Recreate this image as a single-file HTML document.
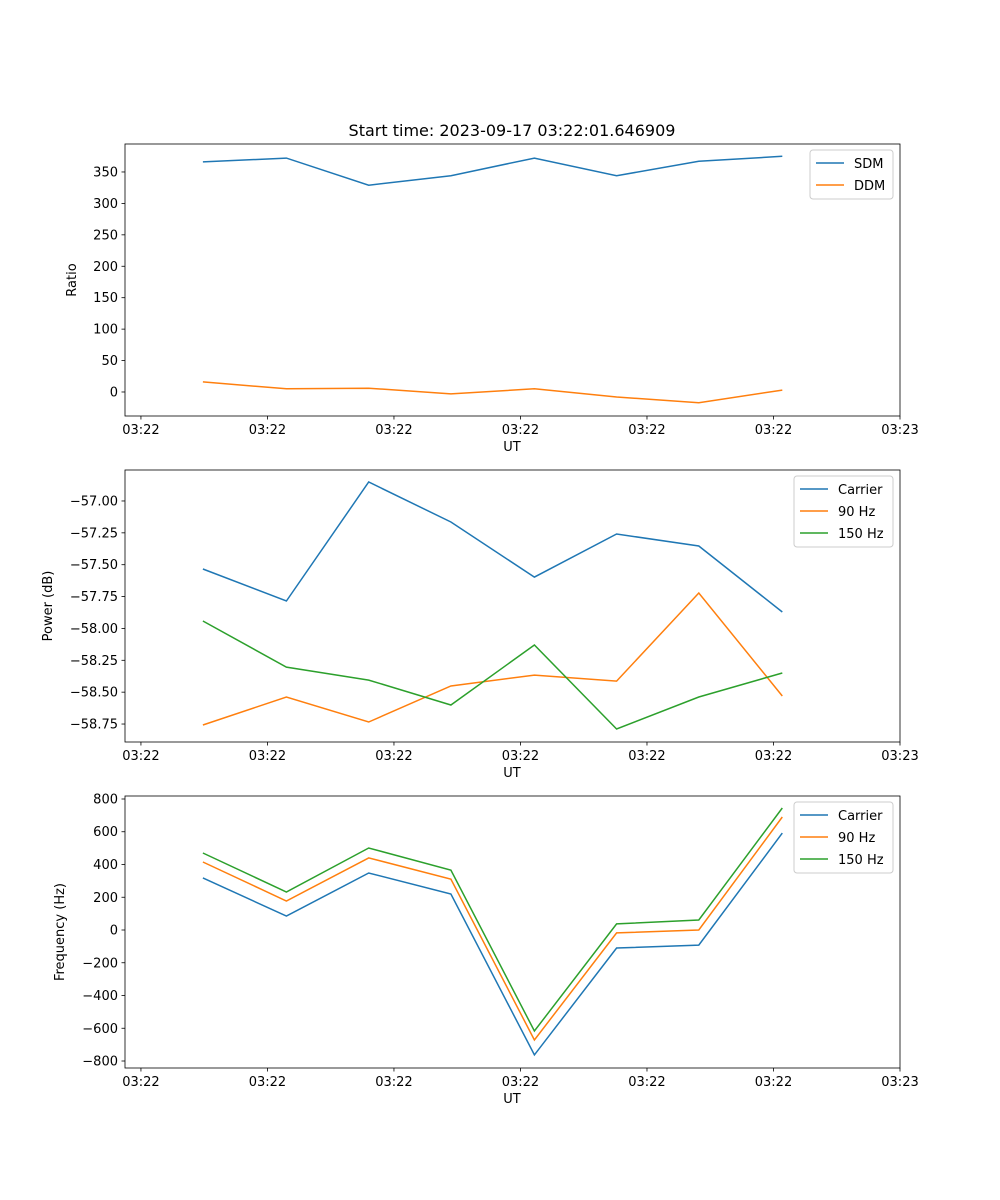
<!DOCTYPE html>
<html><head><meta charset="utf-8"><style>
body{margin:0;background:#fff}
svg{display:block;font-family:"DejaVu Sans","Liberation Sans",sans-serif}
</style></head><body>
<svg id="fig" width="1000" height="1200" viewBox="0 0 1000 1200" xmlns="http://www.w3.org/2000/svg">
<rect width="1000" height="1200" fill="#fff"/>
<text x="512" y="136" font-size="16" text-anchor="middle">Start time: 2023-09-17 03:22:01.646909</text>
</svg>
<script>
const times = [4.9, 11.5, 18.0, 24.5, 31.1, 37.6, 44.1, 50.7];
const xTicks = [0, 10, 20, 30, 40, 50, 60];
const xTickLabels = ["03:22","03:22","03:22","03:22","03:22","03:22","03:23"];
const sdm = [366, 372, 329, 344, 372, 344, 367, 375];
const ddm = [16, 5, 6, -3, 5, -8, -17, 3];
const powCarrier = [-57.534, -57.785, -56.851, -57.165, -57.597, -57.259, -57.353, -57.871];
const pow90 = [-58.758, -58.538, -58.734, -58.452, -58.366, -58.413, -57.722, -58.53];
const pow150 = [-57.942, -58.303, -58.405, -58.601, -58.13, -58.789, -58.538, -58.35];
const freqCarrier = [318, 85, 348, 220, -763, -110, -92, 592];
const freq90 = [415, 177, 440, 311, -672, -18, 0, 690];
const freq150 = [470, 232, 501, 366, -617, 37, 61, 745];
const ticks1 = [0,50,100,150,200,250,300,350];
const ticks2 = [-58.75,-58.5,-58.25,-58,-57.75,-57.5,-57.25,-57];
const ticks3 = [-800,-600,-400,-200,0,200,400,600,800];

const NS="http://www.w3.org/2000/svg";
const svg=document.getElementById('fig');
function mk(tag,attrs,parent){const e=document.createElementNS(NS,tag);for(const k in attrs)e.setAttribute(k,attrs[k]);(parent||svg).appendChild(e);return e;}
const L=125,R=900,xMin=-1.26,xMax=60;
const xs=v=>L+(v-xMin)/(xMax-xMin)*(R-L);
const C=['#1f77b4','#ff7f0e','#2ca02c'];

function panel(name,top,bot,yMin,yMax,yTicks,fmt,ylabel,ylabelX,series,labels,legX,legW){
  const g=mk('g',{});
  
  
  const ys=v=>bot-(v-yMin)/(yMax-yMin)*(bot-top);
  series.forEach((s,i)=>{
    const p=mk('polyline',{points:s.map((v,j)=>xs(times[j]).toFixed(1)+','+ys(v).toFixed(1)).join(' '),fill:'none',stroke:C[i],'stroke-width':1.5},g);
    
    
  });
  mk('rect',{x:L,y:top,width:R-L,height:bot-top,fill:'none',stroke:'#000','stroke-width':0.8},g);
  xTicks.forEach((t,i)=>{
    const x=xs(t);
    mk('line',{x1:x,x2:x,y1:bot,y2:bot+3.5,stroke:'#000','stroke-width':0.8},g);
    const tx=mk('text',{x:x,y:bot+18,'font-size':13,'text-anchor':'middle'},g);tx.textContent=xTickLabels[i];
    
    
  });
  const xl=mk('text',{x:512,y:bot+35,'font-size':13,'text-anchor':'middle'},g);xl.textContent='UT';
  
  
  yTicks.forEach(t=>{
    const y=ys(t);
    mk('line',{x1:L,x2:L-3.5,y1:y,y2:y,stroke:'#000','stroke-width':0.8},g);
    const tx=mk('text',{x:L-7,y:y+4.5,'font-size':13,'text-anchor':'end'},g);tx.textContent=fmt(t);
    
    
  });
  const cy=(top+bot)/2;
  const yl=mk('text',{x:ylabelX,y:cy,'font-size':13,'text-anchor':'middle',transform:`rotate(-90 ${ylabelX} ${cy})`},g);yl.textContent=ylabel;
  
  
  const lg=mk('g',{},g);
  
  
  const lh=labels.length*22+5;
  mk('rect',{x:legX,y:top+6,width:legW,height:lh,rx:3,fill:'#fff','fill-opacity':0.8,stroke:'#ccc'},lg);
  labels.forEach((lab,i)=>{
    const y=top+19+i*22;
    mk('line',{x1:legX+6,x2:legX+34,y1:y,y2:y,stroke:C[i],'stroke-width':1.5},lg);
    const t=mk('text',{x:legX+44,y:y+5,'font-size':13},lg);t.textContent=lab;
    
    
  });
}
panel('ratio',144,416,-38.2,394.5,ticks1,v=>String(v),'Ratio',76,[sdm,ddm],['SDM','DDM'],810,83);
panel('power',470,742,-58.891,-56.757,ticks2,v=>'\u2212'+Math.abs(v).toFixed(2),'Power (dB)',52,[powCarrier,pow90,pow150],['Carrier','90 Hz','150 Hz'],794,99);
panel('frequency',796,1068,-842.7,818.3,ticks3,v=>v<0?'\u2212'+Math.abs(v):String(v),'Frequency (Hz)',64,[freqCarrier,freq90,freq150],['Carrier','90 Hz','150 Hz'],794,99);
</script>
</body></html>
